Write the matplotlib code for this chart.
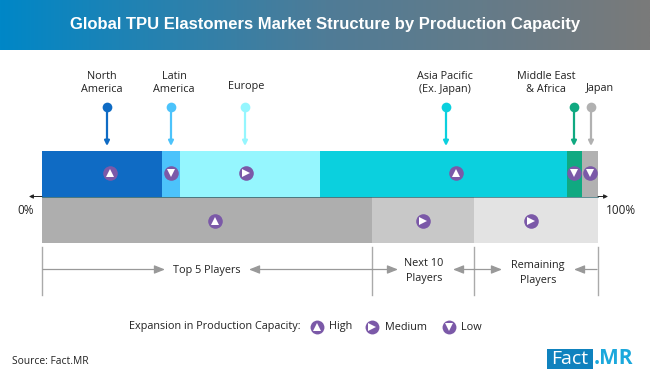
import numpy as np
import matplotlib
matplotlib.use("Agg")
import matplotlib.pyplot as plt
from matplotlib.colors import LinearSegmentedColormap
from matplotlib.patches import Rectangle

# ---- data ----
regions = ["North America", "Latin America", "Europe", "Asia Pacific (Ex. Japan)", "Middle East & Africa", "Japan"]
region_share = [21.6, 3.2, 25.2, 44.4, 2.7, 2.9]
region_expansion = ["High", "Low", "Medium", "High", "Low", "Low"]
players = ["Top 5 Players", "Next 10 Players", "Remaining Players"]
player_share = [59.4, 18.3, 22.3]
player_expansion = ["High", "Medium", "Medium"]

# ---- style ----
region_colors = ["#0F6BC4", "#4CC3FB", "#95F6FE", "#0BD0DE", "#10A981", "#B1B1B1"]
player_colors = ["#AEAEAE", "#C8C8C8", "#E3E3E3"]
region_labels = ["North\nAmerica", "Latin\nAmerica", "Europe", "Asia Pacific\n(Ex. Japan)", "Middle East\n& Africa", "Japan"]
region_label_px = [(102, 83), (174, 83), (246, 87), (445, 83), (546, 83), (600, 88)]
region_pin_px = [107, 171, 245, 446, 574, 591]
region_marker_px = [110, 171, 246, 456, 574, 590]
player_marker_px = [215, 423, 531]
purple = "#7B59A8"
body_font = "Open Sans"
txt = "#222222"
fs = 7.8
W, H = 650, 376

plt.rcParams["font.family"] = [body_font, "DejaVu Sans"]
fig = plt.figure(figsize=(W / 100, H / 100), dpi=100)

# pixel-coordinate overlay for annotation furniture
ov = fig.add_axes([0, 0, 1, 1], zorder=1)
ov.set_xlim(0, W)
ov.set_ylim(H, 0)
ov.axis("off")

# chart axes: share of capacity in percent
x0, x1, y_top, y_bot = 42, 598, 151, 243
ax = fig.add_axes([x0 / W, 1 - y_bot / H, (x1 - x0) / W, (y_bot - y_top) / H], zorder=2)
ax.set_xlim(0, 100)
ax.set_ylim(0, 2)
ax.axis("off")

left = 0
for share, col in zip(region_share, region_colors):
    ax.barh(1.5, share, left=left, height=0.98, color=col, linewidth=0)
    left += share
left = 0
for share, col in zip(player_share, player_colors):
    ax.barh(0.5, share, left=left, height=1.0, color=col, linewidth=0)
    left += share

top = fig.add_axes([0, 0, 1, 1], zorder=3)
top.set_xlim(0, W)
top.set_ylim(H, 0)
top.axis("off")

# banner
cmap = LinearSegmentedColormap.from_list("b", ["#0087C7", "#4F7C97", "#7A7A7A"])
ov.imshow(np.linspace(0, 1, 256)[None, :], extent=[0, W, 50, 0], cmap=cmap, aspect="auto", zorder=1)
ov.set_xlim(0, W)
ov.set_ylim(H, 0)
top.text(325.5, 25, "Global TPU Elastomers Market Structure by Production Capacity",
         family=["Liberation Sans", "DejaVu Sans"], weight="bold", fontsize=11.95,
         color="white", ha="center", va="center")

# axis line and end labels
top.plot([x0, x1], [196.5, 196.5], color="#0A5560", lw=0.6, alpha=0.7)
top.annotate("", xy=(29, 196.5), xytext=(x0, 196.5),
             arrowprops=dict(arrowstyle="-|>", color="#222222", lw=0.7, mutation_scale=6, shrinkA=0, shrinkB=0))
top.annotate("", xy=(608, 196.5), xytext=(x1, 196.5),
             arrowprops=dict(arrowstyle="-|>", color="#222222", lw=0.7, mutation_scale=6, shrinkA=0, shrinkB=0))
top.text(26, 210, "0%", fontsize=8.5, ha="center", va="center", color=txt)
top.text(621, 210, "100%", fontsize=8.5, ha="center", va="center", color=txt)

# region labels and pins
for lab, (lx, ly), px, col in zip(region_labels, region_label_px, region_pin_px, region_colors):
    top.text(lx, ly, lab, fontsize=fs, ha="center", va="center", color=txt, linespacing=1.22)
    top.plot([px], [106.5], "o", ms=7, color=col, mew=0)
    top.annotate("", xy=(px, 146), xytext=(px, 107),
                 arrowprops=dict(arrowstyle="-|>", color=col, lw=1.6, mutation_scale=7, shrinkA=0, shrinkB=0))

def level_marker(axis, x, y, level, size=10.5, tri=6.4):
    axis.plot([x], [y], "o", ms=size, color=purple, mew=0, zorder=5)
    m = {"High": "^", "Medium": ">", "Low": "v"}[level]
    axis.plot([x], [y], m, ms=tri, color="white", mew=0, zorder=6)

for px, lv in zip(region_marker_px, region_expansion):
    level_marker(top, px, 173, lv)
for px, lv in zip(player_marker_px, player_expansion):
    level_marker(top, px, 221, lv)

# brackets
grey = "#999999"
edges = np.cumsum([0] + player_share) / 100 * (x1 - x0) + x0
for e in edges:
    top.plot([e, e], [247, 295], color="#AAAAAA", lw=1)
spans = [(43, 165, 249, 372), (372, 398, 453, 474), (474, 502, 574, 597)]
for a, b, c, d in spans:
    top.annotate("", xy=(b, 269.5), xytext=(a, 269.5),
                 arrowprops=dict(arrowstyle="-|>,head_length=0.75,head_width=0.3", color=grey, lw=0.9,
                                 mutation_scale=8.5, shrinkA=0, shrinkB=0))
    top.annotate("", xy=(c, 269.5), xytext=(d, 269.5),
                 arrowprops=dict(arrowstyle="-|>,head_length=0.75,head_width=0.3", color=grey, lw=0.9,
                                 mutation_scale=8.5, shrinkA=0, shrinkB=0))
top.text(207, 270, "Top 5 Players", fontsize=fs, ha="center", va="center", color=txt)
top.text(424, 271, "Next 10\nPlayers", fontsize=fs, ha="center", va="center", color=txt, linespacing=1.42)
top.text(538, 273, "Remaining\nPlayers", fontsize=fs, ha="center", va="center", color=txt, linespacing=1.42)

# legend
top.text(129, 327, "Expansion in Production Capacity:", fontsize=fs, ha="left", va="center", color=txt)
for px, tx, lv in [(317, 329, "High"), (372, 385, "Medium"), (449, 461, "Low")]:
    level_marker(top, px, 327, lv, size=10, tri=6)
    top.text(tx, 327, lv, fontsize=fs, ha="left", va="center", color=txt)

# source and logo
top.text(12, 362, "Source: Fact.MR", fontsize=7.4, ha="left", va="center", color=txt)
top.add_patch(Rectangle((547, 349), 46, 20, color="#0F82BE", lw=0))
top.text(570, 359, "Fact", fontsize=14, color="white", ha="center", va="center")
top.text(594, 359, ".MR", fontsize=15, weight="bold", color="#1BA8DC", ha="left", va="center")

fig.savefig("out.png", dpi=100, facecolor="white")
